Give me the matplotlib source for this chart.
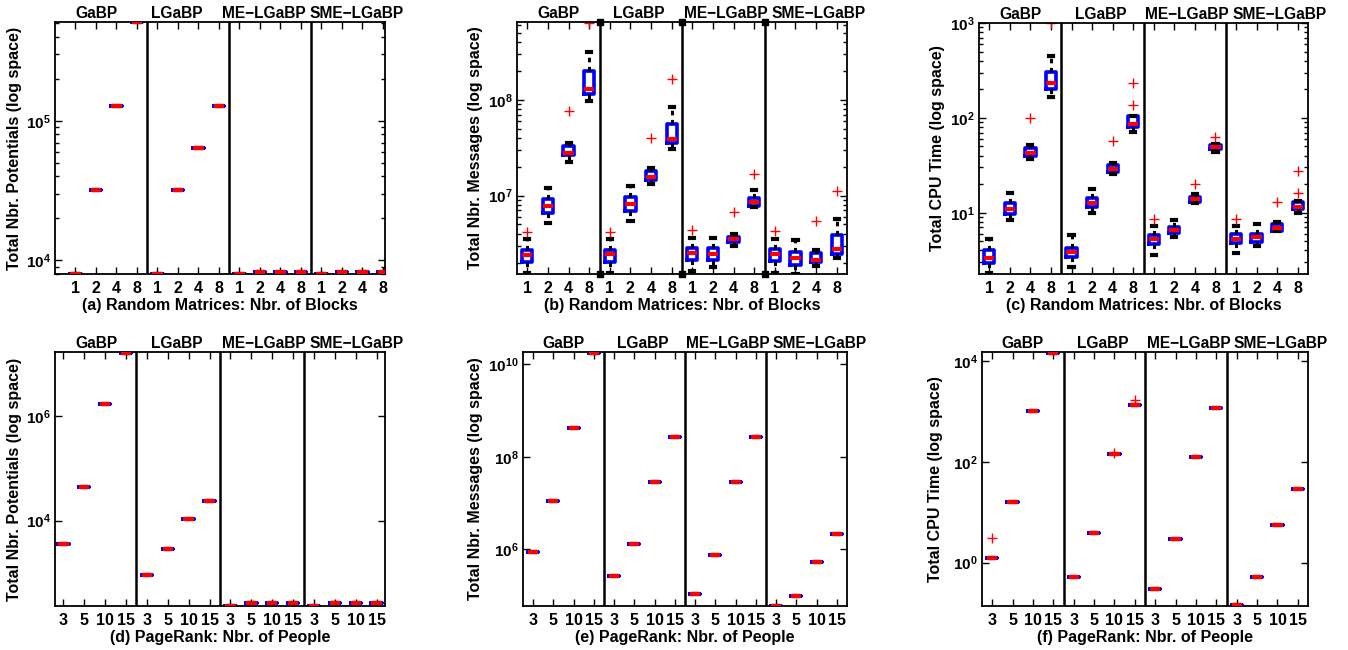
import matplotlib
matplotlib.use("Agg")
import matplotlib.pyplot as plt
from matplotlib.ticker import FixedLocator, LogLocator, NullLocator, NullFormatter

plt.rcParams["font.family"] = ["Liberation Sans", "DejaVu Sans"]
plt.rcParams["font.weight"] = "bold"
plt.rcParams["mathtext.fontset"] = "custom"
plt.rcParams["mathtext.bf"] = "Liberation Sans:bold"
plt.rcParams["mathtext.rm"] = "Liberation Sans:bold"

# --- categories ---
groups = ["GaBP", "LGaBP", "ME\u2212LGaBP", "SME\u2212LGaBP"]
blocks = ["1", "2", "4", "8"]
people = ["3", "5", "10", "15"]

# --- (a) random matrices: potentials (all runs identical) ---
a_vals = [8000, 32000, 128000, 512000, 8000, 32000, 64000, 128000,
          8000, 8300, 8300, 8300, 8000, 8300, 8300, 8300]

# --- (b) random matrices: messages ---
b_lo = [1.55e6, 5.2e6, 2.26e7, 9.8e7, 1.55e6, 5.48e6, 1.33e7, 3.05e7,
        1.64e6, 1.81e6, 3.0e6, 7.67e6, 1.57e6, 1.52e6, 1.84e6, 2.22e6]
b_q1 = [2.04e6, 6.55e6, 2.64e7, 1.16e8, 2.04e6, 6.92e6, 1.46e7, 3.52e7,
        2.14e6, 2.12e6, 3.28e6, 7.87e6, 2.08e6, 1.89e6, 2.01e6, 2.44e6]
b_med = [2.38e6, 7.8e6, 2.77e7, 1.29e8, 2.44e6, 8.24e6, 1.57e7, 3.88e7,
         2.52e6, 2.46e6, 3.5e6, 8.5e6, 2.46e6, 2.22e6, 2.13e6, 2.75e6]
b_q3 = [2.71e6, 9.25e6, 3.33e7, 2.01e8, 2.71e6, 9.77e6, 1.81e7, 5.61e7,
        2.82e6, 2.82e6, 3.73e6, 9.4e6, 2.75e6, 2.6e6, 2.5e6, 3.88e6]
b_hi = [3.5e6, 1.21e7, 3.58e7, 3.15e8, 3.5e6, 1.26e7, 1.93e7, 8.5e7,
        3.64e6, 3.64e6, 3.94e6, 1.15e7, 3.56e6, 3.44e6, 2.71e6, 5.75e6]
b_out = [[4.2e6], [], [7.73e7], [6.4e8], [4.2e6], [], [4.04e7], [1.64e8],
         [4.38e6], [], [6.76e6], [1.69e7], [4.3e6], [], [5.48e6], [1.13e7]]

# --- (c) random matrices: CPU time ---
c_lo = [2.30, 8.4, 36.5, 166, 2.70, 10.0, 25.5, 71,
        3.59, 5.5, 12.7, 43.9, 3.74, 4.46, 6.35, 9.85]
c_q1 = [2.98, 9.7, 39.5, 202, 3.40, 11.6, 26.6, 80,
        4.65, 6.07, 13.1, 46.9, 4.77, 4.96, 6.41, 10.9]
c_med = [3.36, 10.9, 42.8, 234, 3.83, 12.7, 28.8, 87,
         5.25, 6.58, 13.8, 49.2, 5.33, 5.51, 6.85, 11.6]
c_q3 = [4.05, 12.6, 48, 305, 4.22, 14.3, 31.8, 104,
        5.82, 7.12, 14.7, 51.2, 5.9, 5.97, 7.55, 12.9]
c_hi = [5.33, 16.2, 51.2, 446, 5.78, 17.7, 33.1, 105,
        7.24, 8.38, 15.6, 52.5, 7.24, 7.55, 7.98, 13.2]
c_out = [[], [], [99], [1000], [], [], [57.3], [138, 234],
         [8.59], [], [20], [62.7], [8.59], [], [12.9], [16.2, 27.3]]

# --- (d)-(f) PageRank (runs nearly identical) ---
d_vals = [3500, 43900, 1.73e6, 1.66e7, 903, 2860, 10600, 23900,
          232, 265, 265, 265, 232, 265, 265, 265]
e_vals = [8.87e5, 1.1e7, 4.32e8, 1.73e10, 2.61e5, 1.28e6, 2.84e7, 2.67e8,
          1.1e5, 7.53e5, 2.84e7, 2.67e8, 6.0e4, 1.01e5, 5.4e5, 2.17e6]
f_vals = [1.22, 16.2, 995, 1.42e4, 0.513, 3.95, 140, 1350,
          0.295, 2.95, 126, 1180, 0.144, 0.513, 5.52, 28.5]
f_out = [[3.05], [], [], [], [], [], [151], [1700],
         [], [], [], [], [], [], [], []]


def box_stats(lo, q1, med, q3, hi, out):
    return [dict(whislo=a, q1=b, med=c, q3=d, whishi=e, fliers=f)
            for a, b, c, d, e, f in zip(lo, q1, med, q3, hi, out)]


def flat_stats(vals, out=None):
    out = out if out is not None else [[] for _ in vals]
    return box_stats(vals, vals, vals, vals, vals, out)


fig = plt.figure(figsize=(13.48, 6.5), dpi=100)
W, H = 1348.0, 650.0
# where the group names sit along the top (axes fraction)
label_x = [0.125, 0.37, 0.633, 0.915]


def panel(px, stats, ylim, yexp, minor, ylabel, xlabel, xlabels, xlim,
          ylab_off, sep_markers=False):
    x0, y0, x1, y1 = px
    ax = fig.add_axes([x0 / W, 1 - y1 / H, (x1 - x0) / W, (y1 - y0) / H])
    ax.set_yscale("log")
    ax.bxp(stats, positions=range(1, 17), widths=0.5, capwidths=0.2,
           manage_ticks=False,
           boxprops=dict(color="#0000ff", lw=2.6),
           medianprops=dict(color="#ff0000", lw=3.0, zorder=5),
           whiskerprops=dict(color="k", lw=2.2, ls=(0, (1.5, 1.5))),
           capprops=dict(color="k", lw=3.0),
           flierprops=dict(marker="+", markeredgecolor="#ff0000",
                           markersize=7, mew=1.0, ls="none"))
    ax.set_ylim(*ylim)
    ax.set_xlim(*xlim)
    for x in (4.5, 8.5, 12.5):
        if sep_markers:
            ax.plot([x, x], ylim, "k-", lw=1.8, marker="s", ms=4,
                    clip_on=False, zorder=6)
        else:
            ax.axvline(x, color="k", lw=1.8, zorder=6)
    for lx, g in zip(label_x, groups):
        ax.text(lx, 1 + 4 / (y1 - y0), g, transform=ax.transAxes,
                ha="center", va="baseline", fontsize=11.2, fontweight="bold")
    ax.yaxis.set_major_locator(FixedLocator([10.0 ** e for e in yexp]))
    ax.set_yticklabels([r"$\mathbf{10^{%d}}$" % e for e in yexp])
    if minor:
        ax.yaxis.set_minor_locator(LogLocator(base=10, subs=range(2, 10)))
    else:
        ax.yaxis.set_minor_locator(NullLocator())
    ax.yaxis.set_minor_formatter(NullFormatter())
    ax.set_xticks(range(1, 17))
    ax.set_xticklabels(xlabels * 4)
    ax.tick_params(which="both", direction="in", top=True, right=True,
                   width=1.0)
    ax.tick_params(which="major", length=5)
    ax.tick_params(which="minor", length=3)
    ax.tick_params(axis="x", labelsize=11.5, pad=5)
    ax.tick_params(axis="y", labelsize=11, pad=3)
    for s in ax.spines.values():
        s.set_linewidth(1.3)
    ax.set_ylabel(ylabel, fontsize=11.5, fontweight="bold")
    ax.yaxis.set_label_coords(-ylab_off / (x1 - x0), 0.5)
    ax.set_xlabel(xlabel, fontsize=11.5, fontweight="bold", va="top")
    ax.xaxis.set_label_coords(0.5, -24 / (y1 - y0))
    return ax


panel((55, 22, 385, 274), flat_stats(a_vals), (8000, 512000), [4, 5], True,
      "Total Nbr. Potentials (log space)",
      "(a) Random Matrices: Nbr. of Blocks", blocks, (0.0, 16.1), 33)
panel((517, 22, 847, 274), box_stats(b_lo, b_q1, b_med, b_q3, b_hi, b_out),
      (1.52e6, 6.5e8), [7, 8], True,
      "Total Nbr. Messages (log space)",
      "(b) Random Matrices: Nbr. of Blocks", blocks, (0.5, 16.5), 34,
      sep_markers=True)
panel((979, 23, 1308, 274), box_stats(c_lo, c_q1, c_med, c_q3, c_hi, c_out),
      (2.26, 1000), [1, 2, 3], True,
      "Total CPU Time (log space)",
      "(c) Random Matrices: Nbr. of Blocks", blocks, (0.5, 16.5), 34)
panel((55, 352, 385, 606), flat_stats(d_vals), (232, 1.7e7), [4, 6], False,
      "Total Nbr. Potentials (log space)",
      "(d) PageRank: Nbr. of People", people, (0.6, 16.4), 33)
panel((523, 352, 847, 606), flat_stats(e_vals), (6.0e4, 1.85e10), [6, 8, 10],
      False, "Total Nbr. Messages (log space)",
      "(e) PageRank: Nbr. of People", people, (0.5, 16.5), 40)
panel((982, 352, 1308, 606), flat_stats(f_vals, f_out), (0.138, 1.5e4),
      [0, 2, 4], False, "Total CPU Time (log space)",
      "(f) PageRank: Nbr. of People", people, (0.5, 16.5), 39)

fig.savefig("out.png", dpi=100)
